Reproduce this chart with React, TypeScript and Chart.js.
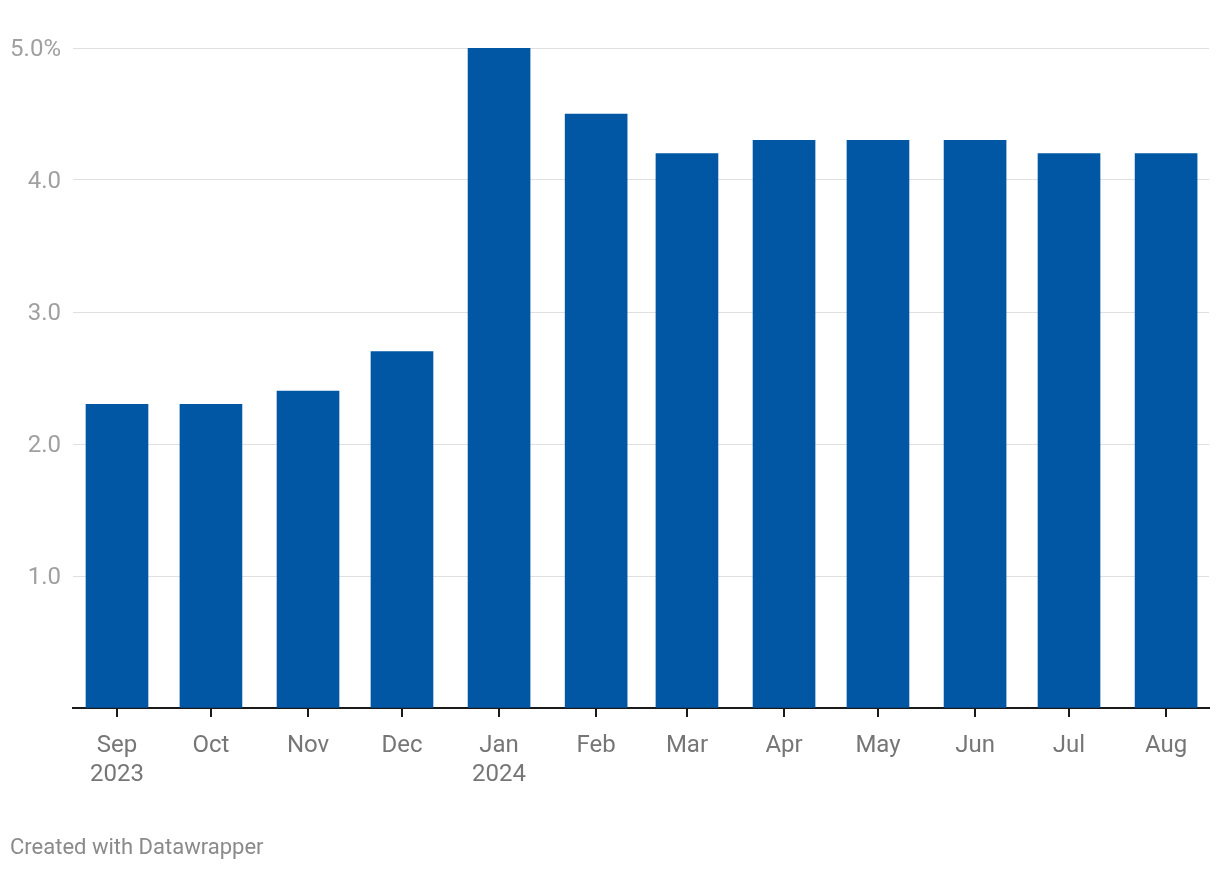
import React, { useEffect, useRef } from "react";
import { Chart, registerables } from "chart.js";

Chart.register(...registerables);

const months = ["Sep", "Oct", "Nov", "Dec", "Jan", "Feb", "Mar", "Apr", "May", "Jun", "Jul", "Aug"];
const monthYears = [2023, 2023, 2023, 2023, 2024, 2024, 2024, 2024, 2024, 2024, 2024, 2024];
const monthIndex = [8, 9, 10, 11, 0, 1, 2, 3, 4, 5, 6, 7];
const tickLabels: (string | string[])[] = [["Sep", "2023"], "Oct", "Nov", "Dec", ["Jan", "2024"], "Feb", "Mar", "Apr", "May", "Jun", "Jul", "Aug"];
const values = [2.3, 2.3, 2.4, 2.7, 5.0, 4.5, 4.2, 4.3, 4.3, 4.3, 4.2, 4.2];
const yTicks = [0, 1, 2, 3, 4, 5];

const DAY = 86400000;
const start = Date.UTC(2023, 8, 1);
const dayOffsets = months.map((_, i) => (Date.UTC(monthYears[i], monthIndex[i], 1) - start) / DAY);

export default function App() {
  const ref = useRef<HTMLCanvasElement>(null);
  useEffect(() => {
    const ctx = ref.current!;
    const chart = new Chart(ctx, {
      type: "bar",
      data: {
        datasets: [
          {
            data: dayOffsets.map((x, i) => ({ x, y: values[i] })),
            backgroundColor: "#0157a4",
            barThickness: 62,
            borderWidth: 0,
          },
        ],
      },
      options: {
        animation: false,
        responsive: false,
        maintainAspectRatio: false,
        layout: { padding: { top: 48, right: 11, left: 0, bottom: 0 } },
        plugins: { legend: { display: false }, tooltip: { enabled: false } },
        scales: {
          x: {
            type: "linear",
            offset: false,
            min: -14.05,
            max: 348.7,
            afterBuildTicks: (scale: any) => {
              scale.ticks = dayOffsets.map((v) => ({ value: v }));
            },
            afterFit: (scale: any) => {
              scale.height = 162;
            },
            border: { display: true, color: "#1a1a1a", width: 2 },
            grid: {
              offset: false,
              drawOnChartArea: false,
              drawTicks: true,
              tickLength: 9,
              color: "#1a1a1a",
              lineWidth: 2,
            },
            ticks: {
              autoSkip: false,
              maxRotation: 0,
              padding: 15,
              color: "#767676",
              font: { family: "Roboto", size: 24, lineHeight: 1.2 },
              callback: (_v: any, i: number) => tickLabels[i],
            },
          },
          y: {
            min: 0,
            max: 5,
            afterBuildTicks: (scale: any) => {
              scale.ticks = yTicks.map((v) => ({ value: v }));
            },
            afterFit: (scale: any) => {
              scale.width = 73;
            },
            border: { display: false },
            grid: {
              drawTicks: false,
              color: (c: any) => (c.tick && c.tick.value === 0 ? "rgba(0,0,0,0)" : "#e0e0e0"),
              lineWidth: 1,
            },
            ticks: {
              padding: 12,
              labelOffset: 2,
              color: "#a0a0a0",
              font: { family: "Roboto", size: 24 },
              callback: (v: any) => (v === 0 ? "" : v === 5 ? "5.0%" : Number(v).toFixed(1)),
            },
          },
        },
      },
    } as any);
    return () => chart.destroy();
  }, []);

  return (
    <div style={{ position: "absolute", left: 0, top: 0, width: 1220, height: 870, background: "#fff" }}>
      <canvas ref={ref} width={1220} height={870} style={{ position: "absolute", left: 0, top: 0 }} />
      <div
        style={{
          position: "absolute",
          left: 10,
          top: 833,
          fontFamily: "Roboto",
          fontSize: 22,
          lineHeight: "28px",
          color: "#8a8a8a",
        }}
      >
        Created with Datawrapper
      </div>
    </div>
  );
}
